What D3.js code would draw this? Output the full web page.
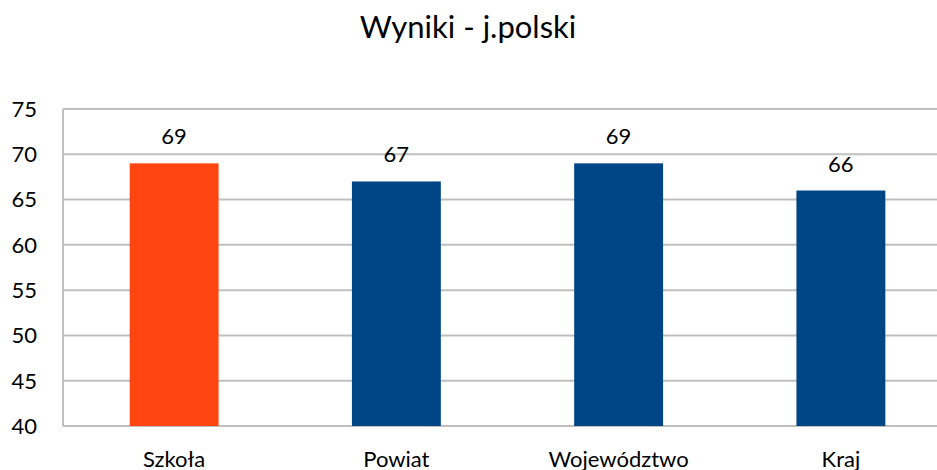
<!DOCTYPE html>
<html>
<head>
<meta charset="utf-8">
<script src="https://cdn.jsdelivr.net/npm/d3@7"></script>
<style>
  body { margin: 0; background: #fff; }
  svg { display: block; font-family: Lato, "Open Sans", sans-serif; }
</style>
</head>
<body>
<svg id="chart" width="937" height="470"></svg>
<script>
// Data
const categories = ["Szkoła", "Powiat", "Województwo", "Kraj"];
const values = [69, 67, 69, 66];
const yTicks = [40, 45, 50, 55, 60, 65, 70, 75];
const title = "Wyniki - j.polski";

const svg = d3.select("#chart");
const W = 937, H = 470;
const plotLeft = 63, plotRight = 952, plotTop = 109, plotBottom = 426;

const x = d3.scaleBand().domain(categories).range([plotLeft, plotRight]).paddingInner(0.6).paddingOuter(0.3);
const y = d3.scaleLinear().domain([40, 75]).range([plotBottom, plotTop]);

// gridlines
svg.append("g")
  .selectAll("line")
  .data(yTicks)
  .join("line")
    .attr("x1", plotLeft).attr("x2", W)
    .attr("y1", d => y(d)).attr("y2", d => y(d))
    .attr("stroke", "#bfbfbf").attr("stroke-width", 2);

// left axis line
svg.append("line")
  .attr("x1", plotLeft).attr("x2", plotLeft)
  .attr("y1", plotTop).attr("y2", plotBottom)
  .attr("stroke", "#bfbfbf").attr("stroke-width", 2);

// tick labels
svg.append("g")
  .selectAll("text")
  .data(yTicks)
  .join("text")
    .attr("x", 37).attr("y", d => y(d))
    .attr("dy", "0.36em")
    .attr("text-anchor", "end")
    .attr("font-size", 22)
    .attr("fill", "#000")
    .text(d => d);

// bars
svg.append("g")
  .selectAll("rect")
  .data(values)
  .join("rect")
    .attr("x", (d, i) => x(categories[i]))
    .attr("width", x.bandwidth())
    .attr("y", d => y(d))
    .attr("height", d => y(40) - y(d))
    .attr("fill", (d, i) => i === 0 ? "#ff4612" : "#004586");

// value labels
svg.append("g")
  .selectAll("text")
  .data(values)
  .join("text")
    .attr("x", (d, i) => x(categories[i]) + x.bandwidth() / 2)
    .attr("y", d => y(d) - 19)
    .attr("text-anchor", "middle")
    .attr("font-size", 22)
    .text(d => d);

// category labels (slightly cut by the bottom edge, as in the source)
svg.append("g")
  .selectAll("text")
  .data(categories)
  .join("text")
    .attr("x", d => x(d) + x.bandwidth() / 2)
    .attr("y", 467)
    .attr("text-anchor", "middle")
    .attr("font-size", 22)
    .text(d => d);

// title
svg.append("text")
  .attr("x", 468).attr("y", 38)
  .attr("text-anchor", "middle")
  .attr("font-size", 31)
  .text(title);
</script>
</body>
</html>
